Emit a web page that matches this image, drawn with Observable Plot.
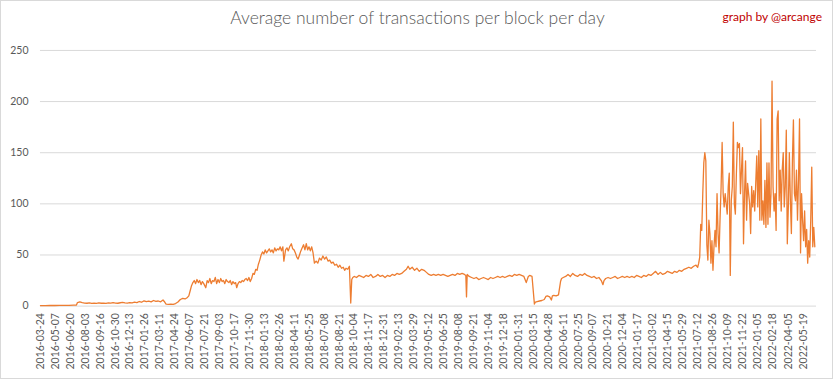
<!DOCTYPE html>
<html>
<head>
<meta charset="utf-8">
<script src="https://cdn.jsdelivr.net/npm/d3@7"></script>
<script src="https://cdn.jsdelivr.net/npm/@observablehq/plot@0.6"></script>
<style>
  html, body { margin: 0; padding: 0; background: #fff; }
  #wrap { position: relative; width: 833px; height: 379px; box-sizing: border-box; border: 1px solid #d9d9d9; overflow: hidden; font-family: Lato, "Liberation Sans", sans-serif; }
  #title { position: absolute; left: 0; width: 833px; top: 6px; text-align: center; font-size: 17.5px; font-weight: 300; color: #595959; }
  #credit { position: absolute; right: 10px; top: 8px; font-size: 12px; color: #c00000; }
  #chart { position: absolute; left: -1px; top: -1px; }
</style>
</head>
<body>
<div id="wrap">
  <div id="chart"></div>
  <div id="title">Average number of transactions per block per day</div>
  <div id="credit">graph by @arcange</div>
</div>
<script>
const tickLabels = ["2016-03-24","2016-05-07","2016-06-20","2016-08-03","2016-09-16","2016-10-30","2016-12-13",
"2017-01-26","2017-03-11","2017-04-24","2017-06-07","2017-07-21","2017-09-03","2017-10-17","2017-11-30",
"2018-01-13","2018-02-26","2018-04-11","2018-05-25","2018-07-08","2018-08-21","2018-10-04","2018-11-17","2018-12-31",
"2019-02-13","2019-03-29","2019-05-12","2019-06-25","2019-08-08","2019-09-21","2019-11-04","2019-12-18",
"2020-01-31","2020-03-15","2020-04-28","2020-06-11","2020-07-25","2020-09-07","2020-10-21","2020-12-04",
"2021-01-17","2021-03-02","2021-04-15","2021-05-29","2021-07-12","2021-08-26","2021-10-09","2021-11-22",
"2022-01-05","2022-02-18","2022-04-05","2022-05-19"];
const yTicks = [0, 50, 100, 150, 200, 250];

const dates = [
"2016-03-24","2016-04-07","2016-04-21","2016-05-05","2016-05-19","2016-06-02","2016-06-16","2016-06-30","2016-07-08",
"2016-07-11","2016-07-18","2016-07-25","2016-08-01","2016-08-08","2016-08-15","2016-08-22","2016-08-29","2016-09-05",
"2016-09-12","2016-09-19","2016-09-26","2016-10-03","2016-10-10","2016-10-17","2016-10-24","2016-10-31","2016-11-07",
"2016-11-14","2016-11-21","2016-11-28","2016-12-05","2016-12-12","2016-12-19","2016-12-26",
"2017-01-02","2017-01-09","2017-01-16","2017-01-23","2017-01-30","2017-02-06","2017-02-13","2017-02-20","2017-02-27",
"2017-03-06","2017-03-13","2017-03-20","2017-03-25","2017-03-29","2017-04-05","2017-04-12","2017-04-19","2017-04-26",
"2017-05-03","2017-05-10","2017-05-17","2017-05-24","2017-05-31","2017-06-04","2017-06-08","2017-06-12","2017-06-16",
"2017-06-20","2017-06-24","2017-06-28","2017-07-02","2017-07-06","2017-07-10","2017-07-14","2017-07-18","2017-07-24",
"2017-07-28","2017-08-01","2017-08-05","2017-08-09","2017-08-13","2017-08-17","2017-08-21","2017-08-25","2017-08-29",
"2017-09-02","2017-09-06","2017-09-10","2017-09-14","2017-09-18","2017-09-22","2017-09-26","2017-09-30","2017-10-04",
"2017-10-08","2017-10-12","2017-10-16","2017-10-20","2017-10-23","2017-10-27","2017-10-31","2017-11-04","2017-11-08",
"2017-11-12","2017-11-16","2017-11-20","2017-11-24","2017-11-28","2017-12-02","2017-12-06","2017-12-10","2017-12-14",
"2017-12-18","2017-12-22","2017-12-26","2017-12-30",
"2018-01-03","2018-01-07","2018-01-11","2018-01-15","2018-01-19","2018-01-23","2018-01-27","2018-01-31","2018-02-04",
"2018-02-08","2018-02-12","2018-02-16","2018-02-20","2018-02-24","2018-02-28","2018-03-04","2018-03-08","2018-03-11",
"2018-03-16","2018-03-20","2018-03-24","2018-03-28","2018-04-02","2018-04-06","2018-04-10","2018-04-14","2018-04-18",
"2018-04-22","2018-04-26","2018-04-30","2018-05-04","2018-05-08","2018-05-12","2018-05-16","2018-05-20","2018-05-24",
"2018-05-28","2018-06-01","2018-06-05","2018-06-09","2018-06-14","2018-06-19","2018-06-24","2018-06-29","2018-07-04",
"2018-07-09","2018-07-14","2018-07-19","2018-07-24","2018-07-29","2018-08-03","2018-08-08","2018-08-13","2018-08-18",
"2018-08-23","2018-08-28","2018-09-02","2018-09-06","2018-09-10","2018-09-15","2018-09-20","2018-09-24","2018-09-27",
"2018-09-30","2018-10-04","2018-10-11","2018-10-18","2018-10-25","2018-11-01","2018-11-08","2018-11-15","2018-11-22",
"2018-11-29","2018-12-06","2018-12-13","2018-12-20","2018-12-27",
"2019-01-03","2019-01-10","2019-01-17","2019-01-24","2019-01-31","2019-02-07","2019-02-14","2019-02-21","2019-02-28",
"2019-03-07","2019-03-12","2019-03-17","2019-03-24","2019-03-31","2019-04-07","2019-04-14","2019-04-21","2019-04-28",
"2019-05-05","2019-05-12","2019-05-19","2019-05-26","2019-06-02","2019-06-09","2019-06-16","2019-06-23","2019-06-30",
"2019-07-07","2019-07-14","2019-07-21","2019-07-28","2019-08-04","2019-08-11","2019-08-18","2019-08-25","2019-08-29",
"2019-08-31","2019-09-02","2019-09-08","2019-09-15","2019-09-22","2019-09-29","2019-10-06","2019-10-13","2019-10-20",
"2019-10-27","2019-11-03","2019-11-10","2019-11-17","2019-11-24","2019-12-01","2019-12-08","2019-12-15","2019-12-22",
"2019-12-29",
"2020-01-05","2020-01-12","2020-01-19","2020-01-26","2020-02-02","2020-02-09","2020-02-16","2020-02-23","2020-02-29",
"2020-03-04","2020-03-11","2020-03-18","2020-03-21","2020-03-26","2020-04-02","2020-04-09","2020-04-16","2020-04-21",
"2020-04-25","2020-05-02","2020-05-07","2020-05-10","2020-05-14","2020-05-21","2020-05-28","2020-06-03","2020-06-06",
"2020-06-11","2020-06-18","2020-06-25","2020-07-02","2020-07-09","2020-07-16","2020-07-23","2020-07-30","2020-08-06",
"2020-08-13","2020-08-20","2020-08-27","2020-09-03","2020-09-10","2020-09-17","2020-09-24","2020-10-01","2020-10-06",
"2020-10-09","2020-10-14","2020-10-21","2020-10-28","2020-11-04","2020-11-11","2020-11-18","2020-11-25","2020-12-02",
"2020-12-09","2020-12-16","2020-12-23","2020-12-30",
"2021-01-06","2021-01-13","2021-01-20","2021-01-27","2021-02-03","2021-02-10","2021-02-17","2021-02-24","2021-03-03",
"2021-03-10","2021-03-17","2021-03-24","2021-03-31","2021-04-07","2021-04-14","2021-04-21","2021-04-28","2021-05-05",
"2021-05-12","2021-05-19","2021-05-26","2021-06-02","2021-06-09","2021-06-16","2021-06-23","2021-06-30","2021-07-07",
"2021-07-12","2021-07-15","2021-07-18","2021-07-21","2021-07-24","2021-07-27","2021-07-30","2021-08-02","2021-08-05",
"2021-08-08","2021-08-11","2021-08-14","2021-08-17","2021-08-20","2021-08-23","2021-08-26","2021-08-29","2021-09-01",
"2021-09-04","2021-09-07","2021-09-10","2021-09-13","2021-09-16","2021-09-19","2021-09-22","2021-09-25","2021-09-28",
"2021-10-01","2021-10-04","2021-10-07","2021-10-10","2021-10-13","2021-10-16","2021-10-19","2021-10-22","2021-10-25",
"2021-10-28","2021-10-31","2021-11-03","2021-11-06","2021-11-09","2021-11-12","2021-11-15","2021-11-18","2021-11-21",
"2021-11-24","2021-11-27","2021-11-30","2021-12-03","2021-12-06","2021-12-09","2021-12-12","2021-12-15","2021-12-18",
"2021-12-21","2021-12-24","2021-12-27","2021-12-30",
"2022-01-02","2022-01-05","2022-01-08","2022-01-11","2022-01-14","2022-01-17","2022-01-20","2022-01-23","2022-01-26",
"2022-01-29","2022-02-01","2022-02-04","2022-02-07","2022-02-10","2022-02-13","2022-02-16","2022-02-19","2022-02-22",
"2022-02-25","2022-02-28","2022-03-03","2022-03-06","2022-03-09","2022-03-12","2022-03-15","2022-03-18","2022-03-21",
"2022-03-24","2022-03-27","2022-03-30","2022-04-02","2022-04-05","2022-04-08","2022-04-11","2022-04-14","2022-04-17",
"2022-04-20","2022-04-23","2022-04-26","2022-04-29","2022-05-02","2022-05-05","2022-05-08","2022-05-11","2022-05-14",
"2022-05-17","2022-05-20","2022-05-23","2022-05-26","2022-05-29","2022-06-01","2022-06-04","2022-06-07","2022-06-10",
"2022-06-13","2022-06-16","2022-06-19","2022-06-22","2022-06-25"
];

const txPerBlock = [
0.5,0.5,0.6,0.6,0.7,0.7,0.8,0.9,1.0,
3.5,4.2,3.4,3.0,2.8,3.2,2.7,2.9,2.6,
3.1,2.8,3.0,2.7,3.2,2.9,3.4,3.0,2.8,
3.3,3.6,3.1,3.0,3.5,3.2,3.8,
3.4,4.5,3.8,5.2,4.3,4.8,4.1,5.5,4.6,
5.0,4.2,6.0,4.0,2.0,1.8,2.0,1.7,2.5,
4.0,6.5,7.5,7.0,8.5,10,15,20,23,
25,22,26,23,25,21,24,22,18,
25,23,27,22,25,24,28,22,26,
23,27,24,25,22,26,24,23,25,
21,24,22,23,18,22,24,23,25,
24,26,27,25,28,24,27,32,31,
36,35,41,45,
50,53,51,55,52,54,56,53,55,
52,57,54,56,55,58,54,58,
44,55,57,54,58,61,56,55,52,
48,46,50,54,57,60,55,61,55,
58,54,58,52,42,44,42,47,45,
49,46,48,44,45,42,43,40,41,
38,40,37,38,35,37,36,39,3,
26,28,29,28,30,29,28,30,29,
31,28,29,31,29,
30,28,30,29,31,30,32,31,32,
34,36,39,36,38,35,37,34,36,
35,33,31,30,31,30,31,30,31,
30,29,30,31,30,32,31,32,31,
30,9,31,29,28,27,28,26,27,
28,27,26,28,27,28,29,28,29,
28,
29,30,29,31,30,31,30,29,23,
29,30,29,2,4,4.5,5,5.5,6.5,
9.5,10,9,6,10,10.5,10,11,24,
27,28,29,31,29,32,30,29,31,
30,32,30,29,28,29,27,28,25,
21,25,27,28,27,28,29,27,28,
29,28,29,28,
29,28,30,29,28,30,29,31,30,
32,34,31,33,31,32,34,33,32,
34,33,35,34,36,37,38,37,39,
40,38,42,48,80,74,110,140,150,
142,60,45,84,71,42,64,35,58,
74,58,110,71,52,87,117,160,110,
97,110,100,90,117,130,30,103,117,
180,100,90,130,160,155,159,110,133,
155,61,110,142,84,120,110,100,71,
117,97,113,93,
120,147,97,152,84,183,84,103,80,
123,77,140,80,140,87,110,220,117,
93,110,74,183,191,103,133,93,133,
150,97,117,172,61,97,150,103,71,
142,182,110,103,133,84,123,183,52,
110,84,64,93,58,75,42,64,48,
84,136,58,77,58
];

const table = dates.map((d, i) => ({date: new Date(d), value: txPerBlock[i]}));
const tickDates = tickLabels.map(s => new Date(s));
const fmt = d3.utcFormat("%Y-%m-%d");

const chart = Plot.plot({
  width: 833,
  height: 379,
  marginLeft: 40,
  marginRight: 16,
  marginTop: 50,
  marginBottom: 73,
  style: {fontFamily: "Lato, 'Liberation Sans', sans-serif", fontSize: "10.5px", color: "#595959", background: "transparent"},
  x: {type: "utc", domain: [new Date("2016-03-24"), new Date("2022-06-27")], ticks: tickDates, tickFormat: fmt, tickRotate: -90, tickSize: 0, tickPadding: 7, label: null},
  y: {domain: [0, 250], ticks: yTicks, tickSize: 0, tickPadding: 12, label: null},
  marks: [
    Plot.gridY(yTicks, {stroke: "#d9d9d9", strokeOpacity: 1}),
    Plot.lineY(table, {x: "date", y: "value", stroke: "#ed7d31", strokeWidth: 1.3})
  ]
});
document.getElementById("chart").appendChild(chart);
</script>
</body>
</html>
